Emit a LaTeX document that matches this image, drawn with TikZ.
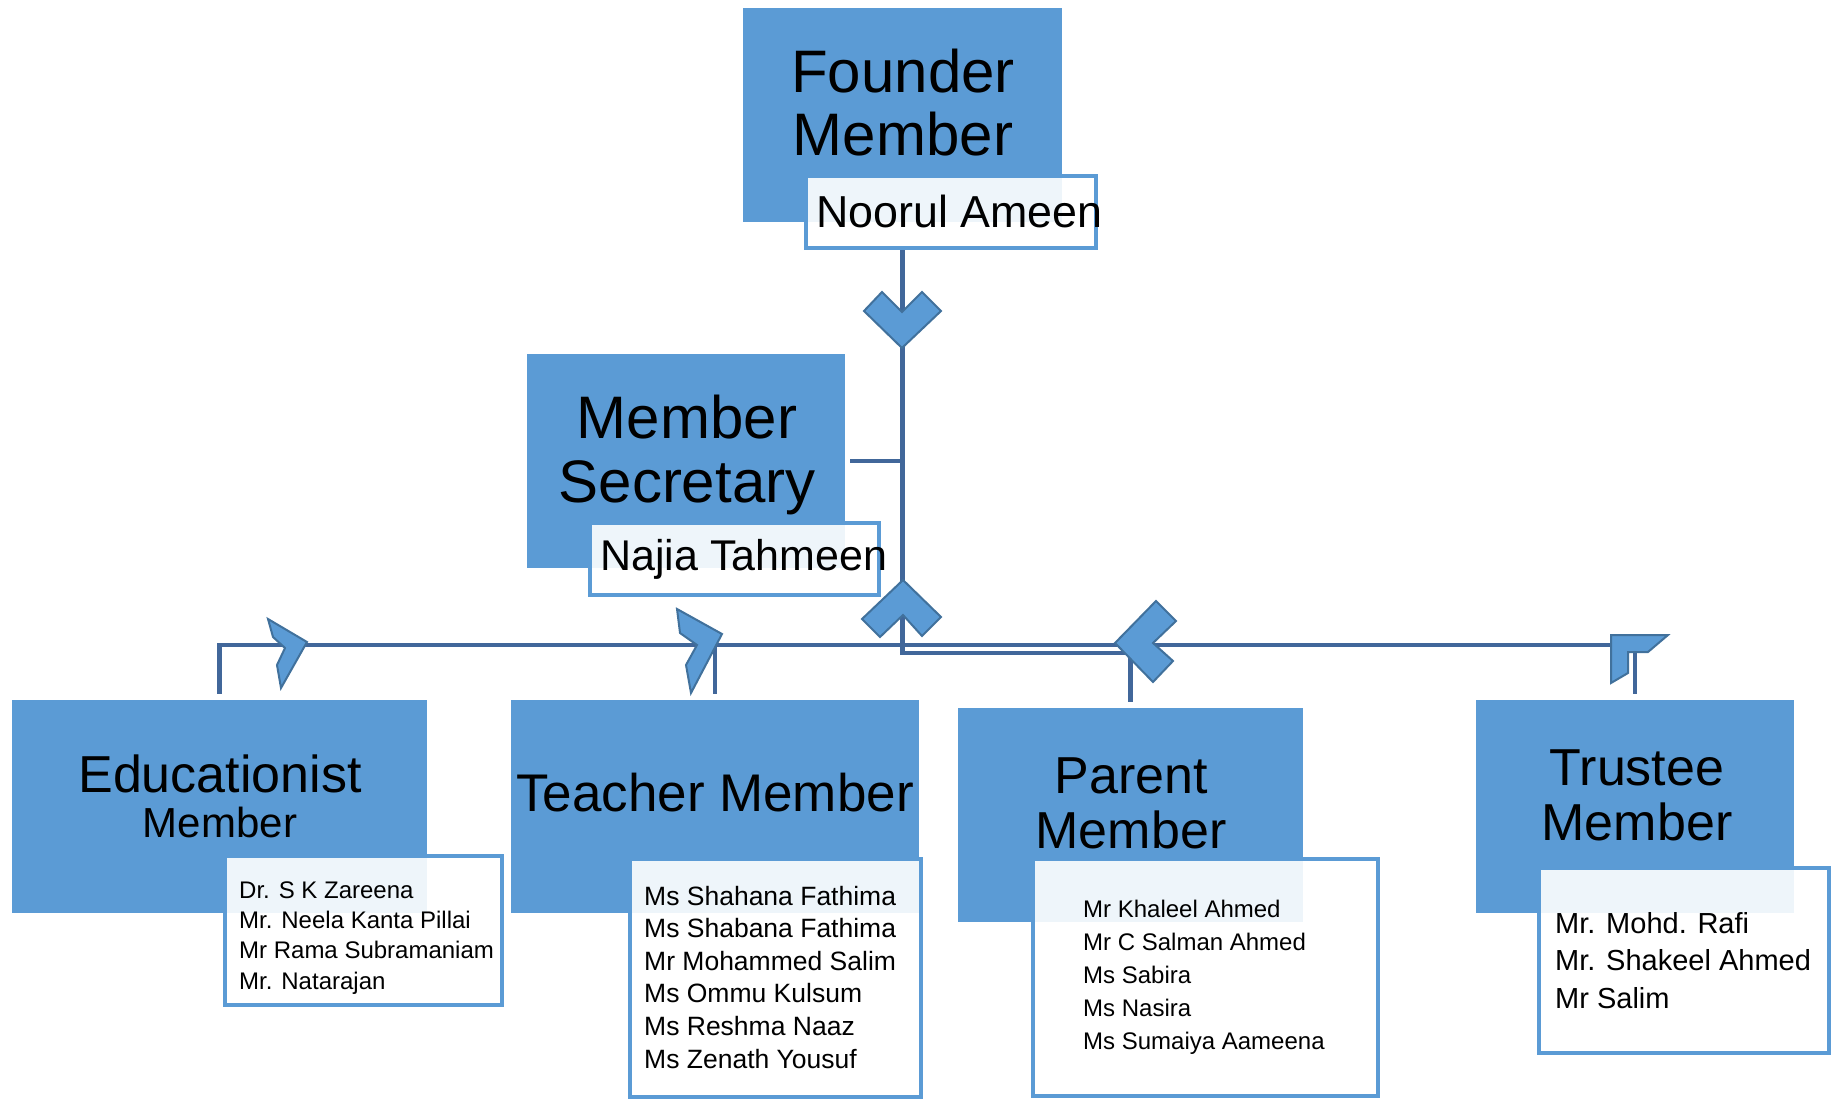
\documentclass[tikz,border=0pt]{standalone}
\usepackage{fontspec}
\setmainfont{Liberation Sans}
\definecolor{boxblue}{HTML}{5B9BD5}
\definecolor{linkblue}{HTML}{41679A}
\definecolor{chevedge}{HTML}{41719C}
\tikzset{
    box/.style={fill=boxblue, inner sep=0pt},
    namebox/.style={draw=boxblue, line width=4pt, fill=white, fill opacity=0.9, inner sep=0pt},
    conn/.style={draw=linkblue, line width=4.5pt},
    chev/.style={fill=boxblue, draw=chevedge, line width=2pt},
    title/.style={align=center, inner sep=0pt},
    names/.style={align=left, inner sep=0pt, anchor=base west},
}

\begin{document}
\begin{tikzpicture}[x=1pt,y=-1pt]
    \useasboundingbox (0,0) rectangle (1844,1099);
    % role boxes
    \node[box, minimum width=319, minimum height=214] (founder) at (902.5,115) {};
    \node[box, minimum width=318, minimum height=214] (secretary) at (686,461) {};
    \node[box, minimum width=415, minimum height=213] (edu) at (219.5,806.5) {};
    \node[box, minimum width=408, minimum height=213] (teacher) at (715,806.5) {};
    \node[box, minimum width=345, minimum height=214] (parent) at (1130.5,815) {};
    \node[box, minimum width=318, minimum height=213] (trustee) at (1635,806.5) {};
    \node[title, font=\fontsize{60}{63}\selectfont] (founderT) at (903,103) {Founder\\Member};
    \node[title, font=\fontsize{60}{64}\selectfont] (secretaryT) at (687,455) {Member\\Secretary};
    \node[title, font=\fontsize{52}{45}\selectfont] (eduT) at (220,796) {Educationist\\{\fontsize{42}{45}\selectfont Member}};
    \node[title, font=\fontsize{53}{56}\selectfont] (teacherT) at (715,793) {Teacher Member};
    \node[title, font=\fontsize{52}{55}\selectfont] (parentT) at (1131,803) {Parent\\Member};
    \node[title, font=\fontsize{52}{55}\selectfont] (trusteeT) at (1637,795) {Trustee\\Member};

    % connectors
    \coordinate (bar) at (0,645);
    \coordinate (low) at (0,653);
    \draw[conn] (founder.south |- 0,250) -- (founder.south |- low) -| ([yshift=6pt]parent.north);
    \draw[conn] ([xshift=5pt]secretary.east) -- (founder.south |- secretary.east);
    \draw[conn] ([yshift=6pt]edu.north) |- (trustee.north |- bar) -- ([yshift=6pt]trustee.north);
    \draw[conn] ([yshift=6pt]teacher.north) -- (teacher.north |- bar);

    % name boxes
    \node[namebox, minimum width=290, minimum height=72] (noorul) at (951,212) {};
    \node[namebox, minimum width=289, minimum height=72] (najia) at (734.5,559) {};
    \node[namebox, minimum width=277, minimum height=149] (eduList) at (363.5,930.5) {};
    \node[namebox, minimum width=291, minimum height=238] (teacherList) at (775.5,978) {};
    \node[namebox, minimum width=345, minimum height=237] (parentList) at (1205.5,977.5) {};
    \node[namebox, minimum width=290, minimum height=185] (trusteeList) at (1684,960.5) {};
    \node[names, font=\fontsize{44.8}{48}\selectfont] (noorulT) at (816,228) {Noorul Ameen};
    \node[names, font=\fontsize{43}{48}\selectfont] (najiaT) at (600,570) {Najia Tahmeen};
    % lists sit on the baseline of their last line
    \node[names, font=\fontsize{24}{30.3}\selectfont] (eduN) at (239,989)
        {Dr. S K Zareena\\Mr. Neela Kanta Pillai\\Mr Rama Subramaniam\\Mr. Natarajan};
    \node[names, font=\fontsize{26.5}{32.6}\selectfont] (teacherN) at (644,1068)
        {Ms Shahana Fathima\\Ms Shabana Fathima\\Mr Mohammed Salim\\Ms Ommu Kulsum\\Ms Reshma Naaz\\Ms Zenath Yousuf};
    \node[names, font=\fontsize{24}{33}\selectfont] (parentN) at (1083,1049)
        {Mr Khaleel Ahmed\\Mr C Salman Ahmed\\Ms Sabira\\Ms Nasira\\Ms Sumaiya Aameena};
    \node[names, font=\fontsize{29}{37.5}\selectfont] (trusteeN) at (1555,1008)
        {Mr. Mohd. Rafi\\Mr. Shakeel Ahmed\\Mr Salim};

    % chevrons
    \draw[chev] (864,311) -- (882,292) -- (902,312) -- (922,292) -- (941,311) -- (902,348) -- cycle;
    \draw[chev] (903,580) -- (941,617) -- (922,636) -- (903,615) -- (880,637) -- (862,619) -- cycle;
    \draw[chev] (268,619) -- (307,642) -- (281,688) -- (277,665) -- (285,648) -- (273,637) -- cycle;
    \draw[chev] (677,609) -- (722,634) -- (691,693) -- (686,665) -- (697,645) -- (680,633) -- cycle;
    \draw[chev] (1156,601) -- (1176,621) -- (1153,643) -- (1173,661) -- (1153,682) -- (1115,643) -- cycle;
    \draw[chev] (1611,635) -- (1668,635) -- (1648,652) -- (1628,652) -- (1628,673) -- (1611,683) -- cycle;
\end{tikzpicture}
\end{document}
